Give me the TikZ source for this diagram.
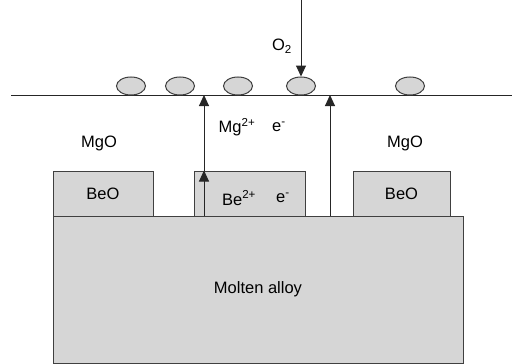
\documentclass[tikz,border=0pt]{standalone}
\usepackage{fontspec}
\setmainfont{Liberation Sans}
\usetikzlibrary{arrows.meta,shapes.geometric}
\definecolor{oxgray}{HTML}{D6D6D6}
\definecolor{edgegray}{HTML}{404040}
\tikzset{
  layerbox/.style={
    rectangle, draw=edgegray, fill=oxgray, line width=1pt,
    inner sep=0pt, font=\fontsize{16.5}{18}\selectfont
  },
  particle/.style={
    ellipse, draw=edgegray, fill=oxgray, line width=1pt,
    minimum width=29pt, minimum height=18pt, inner sep=0pt
  },
  fluxarrow/.style={
    -{Triangle[length=11pt,width=10pt]}, line width=1pt, color=black!85
  },
  speclabel/.style={
    font=\fontsize{16.5}{18}\selectfont, inner sep=0pt
  },
}
\begin{document}
\begin{tikzpicture}[x=1pt,y=-1pt]
  \useasboundingbox (0,0) rectangle (512,364);

  % Melt and oxide islands
  \node[layerbox, minimum width=410pt, minimum height=147pt] (alloy) at (258,289.5) {Molten alloy};
  \node[layerbox, minimum width=100pt, minimum height=45pt] (beoleft) at (103,193.5) {BeO};
  \node[layerbox, minimum width=111pt, minimum height=45pt] (beomid) at (249.5,193.5) {};
  \node[layerbox, minimum width=97pt, minimum height=45pt] (beoright) at (401.5,193.5) {BeO};

  % Surface line
  \coordinate (surfL) at (11,95);
  \coordinate (surfR) at (512,95);
  \draw[line width=1pt, black!85] (surfL) -- (surfR);

  % Oxide particles on the surface
  \node[particle] (p1) at (131,86) {};
  \node[particle] (p2) at (180,86) {};
  \node[particle] (p3) at (238,86) {};
  \node[particle] (p4) at (301,86) {};
  \node[particle] (p5) at (410,86) {};

  % Oxygen supply
  \coordinate (otop) at (301,0);
  \draw[fluxarrow] (otop) -- (p4.north);
  \node[speclabel] (oxy) at (282,46) {O\textsubscript{2}};

  % Cation and electron transport
  \coordinate (mgup) at (204,95);
  \coordinate (beup) at (330,95);
  \draw[fluxarrow] (mgup |- alloy.north) -- (mgup |- beomid.north);
  \draw[fluxarrow] (mgup |- beomid.north) -- (mgup);
  \draw[fluxarrow] (beup |- alloy.north) -- (beup);

  % Labels
  \node[speclabel] (mgion) at (237,127) {Mg\textsuperscript{2+}};
  \node[speclabel] (mgel) at (279,127) {e\textsuperscript{-}};
  \node[speclabel] (beion) at (239,198) {Be\textsuperscript{2+}};
  \node[speclabel] (beel) at (283,198) {e\textsuperscript{-}};
  \node[speclabel] (mgoleft) at (99,143) {MgO};
  \node[speclabel] (mgoright) at (405,143) {MgO};
\end{tikzpicture}
\end{document}
